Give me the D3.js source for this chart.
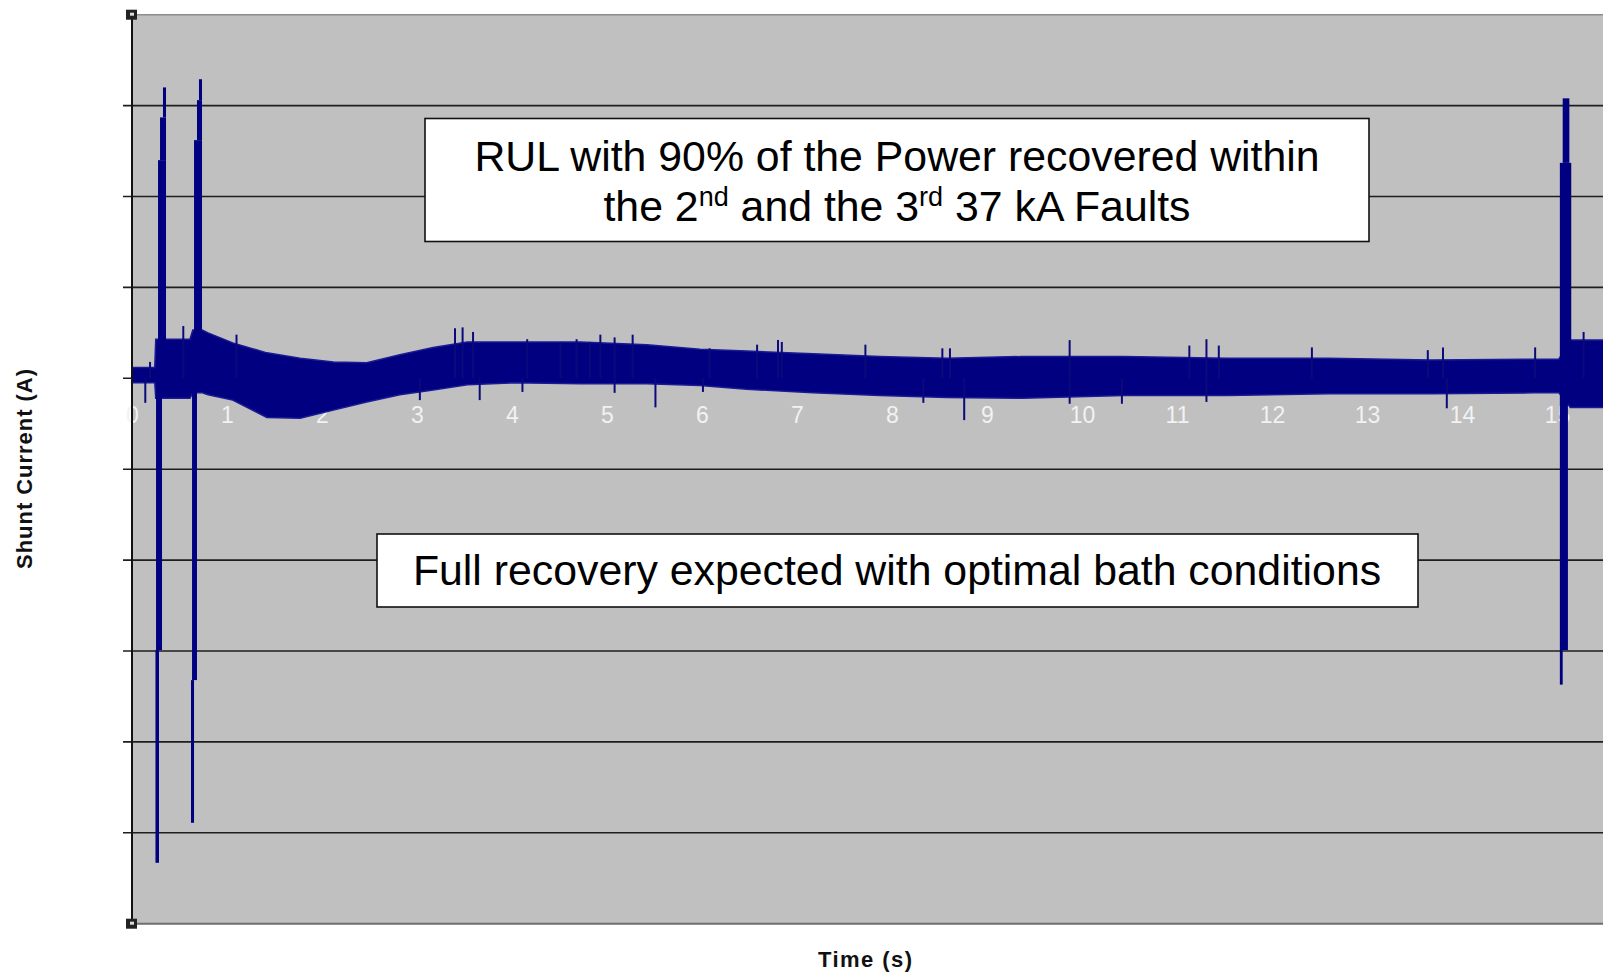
<!DOCTYPE html>
<html>
<head>
	<title>Shunt current</title>
	<style type="text/css">
		body {
			margin: 0;
			background: #fff;
		}
		svg text {
			font-family: "Liberation Sans", Arial, sans-serif;
		}
	</style>
</head>
<body>
<section></section>
<script src="https://d3js.org/d3.v7.min.js"></script>
<script>

// x axis labels (s) and horizontal gridlines (kA, no visible labels)
var xTicks = [0, 1, 2, 3, 4, 5, 6, 7, 8, 9, 10, 11, 12, 13, 14, 15];
var yGrid = [30, 20, 10, 0, -10, -20, -30, -40, -50];

// envelope of the noisy current band
var envT  = [0.00, 0.24, 0.25, 0.29, 0.61, 0.64, 0.74, 0.80, 1.06, 1.42, 1.77, 2.12, 2.47, 2.82, 3.17, 3.53, 4.01, 4.72, 5.42, 5.98, 6.47, 7.17, 7.87, 8.58, 9.37, 10.44, 11.53, 12.60, 13.67, 14.75, 15.02, 15.14, 15.50];
var envHi = [1.2, 1.2, 4.3, 4.3, 4.3, 5.3, 5.3, 5.0, 3.9, 2.8, 2.2, 1.8, 1.7, 2.6, 3.4, 4.0, 4.0, 4.0, 3.7, 3.2, 3.0, 2.7, 2.4, 2.2, 2.4, 2.4, 2.2, 2.2, 2.0, 2.1, 2.1, 4.2, 4.2];
var envLo = [-0.5, -0.5, -2.2, -2.2, -2.2, -1.6, -1.6, -1.8, -2.4, -4.3, -4.4, -3.5, -2.6, -1.8, -1.3, -0.7, -0.5, -0.6, -0.6, -0.8, -1.2, -1.6, -1.9, -2.1, -2.2, -1.9, -1.9, -1.7, -1.7, -1.6, -1.6, -3.2, -3.2];

// the three 37 kA faults: [t start, t end, high, low]
var faultSegments = [
	[0.274, 0.358, 24.0, 0],
	[0.295, 0.358, 28.7, 24.0],
	[0.326, 0.358, 32.0, 28.7],
	[0.253, 0.316, 0, -29.9],
	[0.247, 0.284, -29.9, -53.3],
	[0.653, 0.737, 26.2, 0],
	[0.684, 0.737, 30.6, 26.2],
	[0.705, 0.737, 32.9, 30.6],
	[0.632, 0.684, 0, -33.2],
	[0.621, 0.653, -33.2, -48.9],
	[15.03, 15.15, 23.7, 0],
	[15.03, 15.115, 0, -29.9],
	[15.06, 15.13, 30.8, 23.7],
	[15.03, 15.06, -29.9, -33.7]
];

// short glitches sticking out of the band: [t, tip value]
var glitches = [
	[0.14, -2.7], [0.19, 1.8], [0.54, 5.75], [1.10, 4.8], [3.03, -2.4], [3.40, 5.5], [3.48, 5.6],
	[3.59, 5.1], [3.66, -2.4], [4.11, -1.5], [4.16, 4.3], [4.51, 4.0], [4.68, 4.3], [4.82, 4.0],
	[4.93, 4.8], [5.08, 4.5], [5.27, 4.8], [5.08, -1.6], [5.51, -3.2], [6.01, -1.5], [6.08, 3.3],
	[6.58, 3.7], [6.80, 4.2], [6.84, 4.0], [7.72, 3.7], [8.33, -2.7], [8.53, 3.3], [8.61, 3.3],
	[8.76, -4.6], [9.87, 4.2], [9.87, -2.8], [10.42, -2.8], [11.13, 3.6], [11.31, 4.3], [11.44, 3.6],
	[11.31, -2.6], [12.42, 3.4], [13.64, 3.1], [13.80, 3.4], [13.84, -3.3], [14.77, 3.4], [15.28, 5.1]
];

var width = 1603;
var height = 977;
var left = 132;

var svg = d3.select('section').append("svg")
	.attr("width", width)
	.attr("height", height);

var x = d3.scaleLinear().domain([0, 16]).range([left, left + 16 * 95]);
var y = d3.scaleLinear().domain([-60, 40]).range([923.7, 14.7]);

// plot area
svg.append("rect")
	.attr("x", left)
	.attr("y", y(40))
	.attr("width", width - left)
	.attr("height", y(-60) - y(40))
	.attr("fill", "#c0c0c0");

svg.append("line")
	.attr("x1", left).attr("x2", width)
	.attr("y1", y(40)).attr("y2", y(40))
	.attr("stroke", "#8c8c8c")
	.attr("stroke-width", 1.5);

svg.append("line")
	.attr("x1", left).attr("x2", width)
	.attr("y1", y(-60)).attr("y2", y(-60))
	.attr("stroke", "#6e6e6e")
	.attr("stroke-width", 2);

// gridlines, poking out left of the axis as tick marks
svg.append("g")
	.selectAll("line")
	.data(yGrid)
	.join("line")
		.attr("x1", left - 9)
		.attr("x2", width)
		.attr("y1", function(d) { return y(d); })
		.attr("y2", function(d) { return y(d); })
		.attr("stroke", "#1e1e1e")
		.attr("stroke-width", 1.6);

// x tick labels, white, under the trace
var xAxis = svg.append("g")
	.attr("transform", "translate(0," + y(0) + ")")
	.call(d3.axisBottom(x).tickValues(xTicks).tickSize(0).tickPadding(28.5));
xAxis.select(".domain").remove();
xAxis.selectAll("text")
	.attr("fill", "#f2f2f2")
	.attr("font-size", 23)
	.style("font-family", "'Liberation Sans', Arial, sans-serif");

// the signal band
var area = d3.area()
	.x(function(d, i) { return x(envT[i]); })
	.y0(function(d, i) { return y(envLo[i]); })
	.y1(function(d, i) { return y(envHi[i]); });

svg.append("path")
	.attr("d", area(envT))
	.attr("fill", "#000080")
	.attr("stroke", "#1a1a94")
	.attr("stroke-width", 1.5);

svg.append("g")
	.selectAll("line")
	.data(glitches)
	.join("line")
		.attr("x1", function(d) { return x(d[0]); })
		.attr("x2", function(d) { return x(d[0]); })
		.attr("y1", y(0))
		.attr("y2", function(d) { return y(d[1]); })
		.attr("stroke", "#0a0a7a")
		.attr("stroke-width", 2);

svg.append("g")
	.selectAll("rect")
	.data(faultSegments)
	.join("rect")
		.attr("x", function(d) { return x(d[0]); })
		.attr("y", function(d) { return y(d[2]); })
		.attr("width", function(d) { return x(d[1]) - x(d[0]); })
		.attr("height", function(d) { return y(d[3]) - y(d[2]); })
		.attr("fill", "#000080");

// y axis line
svg.append("line")
	.attr("x1", left).attr("x2", left)
	.attr("y1", y(40)).attr("y2", y(-60))
	.attr("stroke", "#111")
	.attr("stroke-width", 2);

// little corner handles
[40, -60].forEach(function(v) {
	svg.append("rect")
		.attr("x", left - 6).attr("y", y(v) - 5)
		.attr("width", 11).attr("height", 10)
		.attr("fill", "#222");
	svg.append("rect")
		.attr("x", left - 2).attr("y", y(v) - 2)
		.attr("width", 4).attr("height", 3)
		.attr("fill", "#ddd");
});

// annotation boxes
var note1 = svg.append("g");
note1.append("rect")
	.attr("x", 425).attr("y", 118.5)
	.attr("width", 944).attr("height", 123)
	.attr("fill", "#fff")
	.attr("stroke", "#111")
	.attr("stroke-width", 1.6);
note1.append("text")
	.attr("x", 897).attr("y", 170.5)
	.attr("text-anchor", "middle")
	.attr("font-size", 42.8)
	.text("RUL with 90% of the Power recovered within");
var line2 = note1.append("text")
	.attr("x", 897).attr("y", 220.5)
	.attr("text-anchor", "middle")
	.attr("font-size", 42.8);
line2.append("tspan").text("the 2");
line2.append("tspan").attr("font-size", 27).attr("dy", -15).text("nd");
line2.append("tspan").attr("dy", 15).text(" and the 3");
line2.append("tspan").attr("font-size", 27).attr("dy", -15).text("rd");
line2.append("tspan").attr("dy", 15).text(" 37 kA Faults");

var note2 = svg.append("g");
note2.append("rect")
	.attr("x", 377).attr("y", 534)
	.attr("width", 1041).attr("height", 73)
	.attr("fill", "#fff")
	.attr("stroke", "#111")
	.attr("stroke-width", 1.6);
note2.append("text")
	.attr("x", 897).attr("y", 585)
	.attr("text-anchor", "middle")
	.attr("font-size", 42.8)
	.text("Full recovery expected with optimal bath conditions");

// axis titles
svg.append("text")
	.attr("transform", "translate(31.5,469) rotate(-90)")
	.attr("text-anchor", "middle")
	.attr("font-size", 22)
	.attr("font-weight", "bold")
	.attr("fill", "#111")
	.attr("textLength", 200)
	.attr("lengthAdjust", "spacing")
	.text("Shunt Current (A)");

svg.append("text")
	.attr("x", 865).attr("y", 967)
	.attr("text-anchor", "middle")
	.attr("font-size", 22)
	.attr("font-weight", "bold")
	.attr("fill", "#111")
	.attr("textLength", 94)
	.attr("lengthAdjust", "spacing")
	.text("Time (s)");

</script>
</body>
</html>
